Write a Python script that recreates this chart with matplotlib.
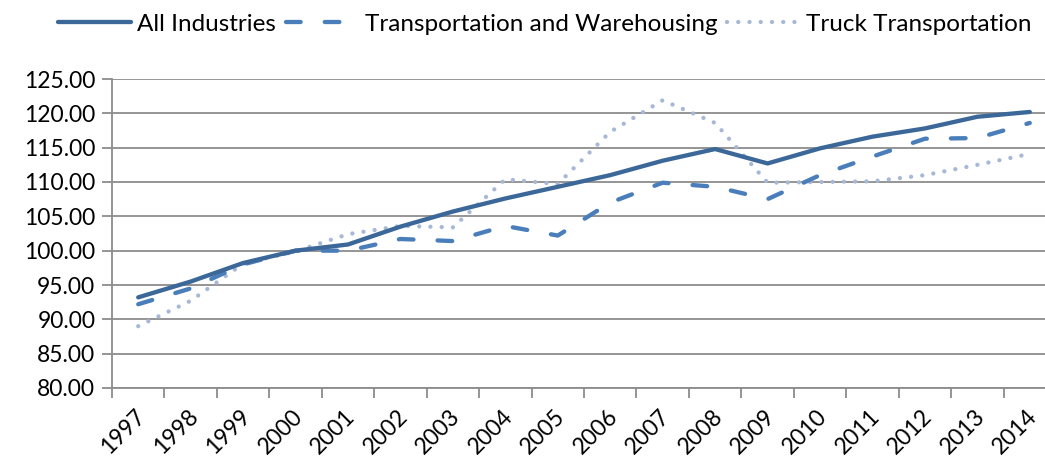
import matplotlib
matplotlib.use("Agg")
from matplotlib import pyplot as plt
from matplotlib.ticker import MultipleLocator, FixedLocator
import matplotlib.transforms as mtransforms
import numpy as np

years = [str(y) for y in range(1997, 2015)]
all_industries = [93.2, 95.5, 98.2, 100.0, 100.9, 103.5, 105.7, 107.6, 109.3,
                  111.0, 113.1, 114.8, 112.7, 114.9, 116.6, 117.8, 119.5, 120.2]
transport_warehousing = [92.2, 94.5, 98.0, 100.0, 100.0, 101.7, 101.4, 103.6, 102.2,
                         107.0, 109.9, 109.3, 107.5, 111.0, 113.7, 116.3, 116.4, 118.6]
truck_transport = [89.0, 92.7, 98.1, 99.9, 102.4, 103.6, 103.4, 110.4, 109.7,
                   117.3, 121.9, 118.6, 109.9, 110.0, 110.1, 111.0, 112.5, 114.1]

plt.rcParams['font.family'] = ['Lato', 'DejaVu Sans']
fs = 16.5

fig = plt.figure(figsize=(10.45, 4.57), dpi=100)
# plot area runs a bit past the right edge of the picture, as in the original
ax = fig.add_axes([112/1045, 1-388/457, (1056-112)/1045, (388-79)/457])

x = np.arange(len(years))
grey = '#8c8c8c'

ax.plot(x, all_industries, color='#3c6899', lw=3.1, solid_capstyle='round',
        label='All Industries', zorder=4)
ax.plot(x, transport_warehousing, color='#4a7ebb', lw=3.1, dash_capstyle='round',
        dashes=(3.4, 5.6), label='Transportation and Warehousing', zorder=3)
ax.plot(x, truck_transport, color='#a7b8d6', lw=3.1, dash_capstyle='round',
        dashes=(0.01, 2.6), label='Truck Transportation', zorder=2)

ax.set_xlim(-0.5, len(years) - 0.5)
ax.set_ylim(80, 125)
ax.yaxis.set_major_locator(MultipleLocator(5))
ax.yaxis.set_major_formatter(lambda v, p: '%.2f' % v)
ax.grid(axis='y', color=grey, lw=1.3)
ax.set_axisbelow(True)

ax.set_xticks(x)
ax.set_xticklabels(years, rotation=45, ha='right', va='center', rotation_mode='anchor')
ax.xaxis.set_minor_locator(FixedLocator(np.arange(-0.5, len(years), 1)))
ax.tick_params(axis='x', which='major', length=0, pad=18, labelsize=fs)
ax.tick_params(axis='x', which='minor', length=7, width=1.3, color=grey)
ax.tick_params(axis='y', length=7, width=1.3, color=grey, labelsize=fs, pad=5)

# nudge year labels a little to the right
shift = mtransforms.ScaledTranslation(4/100, 0, fig.dpi_scale_trans)
for lab in ax.get_xticklabels():
    lab.set_transform(lab.get_transform() + shift)

for s in ['top', 'right']:
    ax.spines[s].set_visible(False)
for s in ['left', 'bottom']:
    ax.spines[s].set_color(grey)
    ax.spines[s].set_linewidth(1.3)

fig.legend(loc='center', bbox_to_anchor=(545/1045, 1-24/457), ncol=3, frameon=False,
           fontsize=17.5, handlelength=3.0, handletextpad=0.25, columnspacing=0.4,
           borderaxespad=0)

fig.savefig('out.png', dpi=100)
